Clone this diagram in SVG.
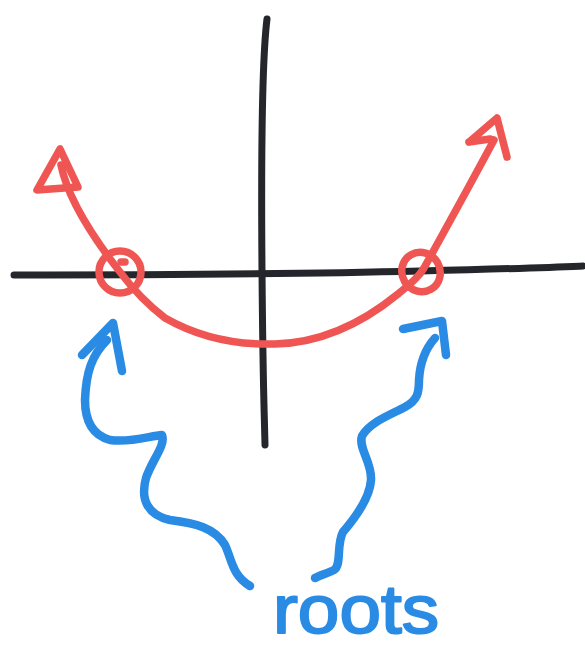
<svg xmlns="http://www.w3.org/2000/svg" width="585" height="649" viewBox="0 0 585 649">
  <style>
    .ink { fill: none; stroke-linecap: round; stroke-linejoin: round; }
    .black { stroke: #25262b; stroke-width: 7; }
    .red { stroke: #ef5653; stroke-width: 7.5; }
    .blue { stroke: #2a8be4; stroke-width: 8.5; }
    .label { font-family: "Liberation Sans", Arial, sans-serif; font-size: 68px; fill: #2a8be4; stroke: #2a8be4; stroke-width: 2; stroke-linejoin: round; }
  </style>
  <rect width="585" height="649" fill="#ffffff"/>

  <g id="axes">
    <path class="ink black" d="M14,275 C150,275 300,274 420,271 S560,267 583,266"/>
    <path class="ink black" d="M267,19 C262,60 261,150 262,270 S264,400 265,445"/>
  </g>

  <g id="parabola">
    <path class="ink red" d="M61,165 C68,200 95,240 120,272 C135,292 148,305 165,318 C200,338 240,345 275,344 C320,343 360,325 398,294 C410,284 418,278 424,268 C445,230 470,185 494,140"/>
    <path class="ink red" d="M60,149 L37,190 L78,187 Z"/>
    <path class="ink red" d="M469,142 L497,118 L507,157 M469,142 L490,139"/>
  </g>

  <g id="root-left">
    <circle class="ink red" cx="120" cy="272" r="21"/>
    <path class="ink red" d="M121,262 L125,262"/>
  </g>
  <g id="root-right">
    <ellipse class="ink red" cx="421" cy="272" rx="19" ry="20" transform="rotate(-30 421 272)"/>
  </g>

  <g id="connectors">
    <path class="ink blue" d="M107,340 C92,355 86,372 85,400 C85,420 92,435 110,440 C130,443 150,436 162,435 C166,445 152,460 146,478 C140,500 148,515 170,520 C195,523 215,528 225,545 C232,560 232,575 250,586"/>
    <path class="ink blue" d="M82,355 L113,323 L122,371"/>
    <path class="ink blue" d="M435,338 C426,348 420,362 419,380 C419,392 418,400 405,407 C390,415 370,422 362,436 C358,448 372,462 371,480 C370,498 355,518 343,532 C336,545 342,565 334,570 C328,573 320,575 315,578"/>
    <path class="ink blue" d="M403,329 L442,321 L446,355"/>
  </g>

  <g id="label-roots">
    <text class="label" x="273" y="633" textLength="166" lengthAdjust="spacingAndGlyphs">roots</text>
  </g>
</svg>
